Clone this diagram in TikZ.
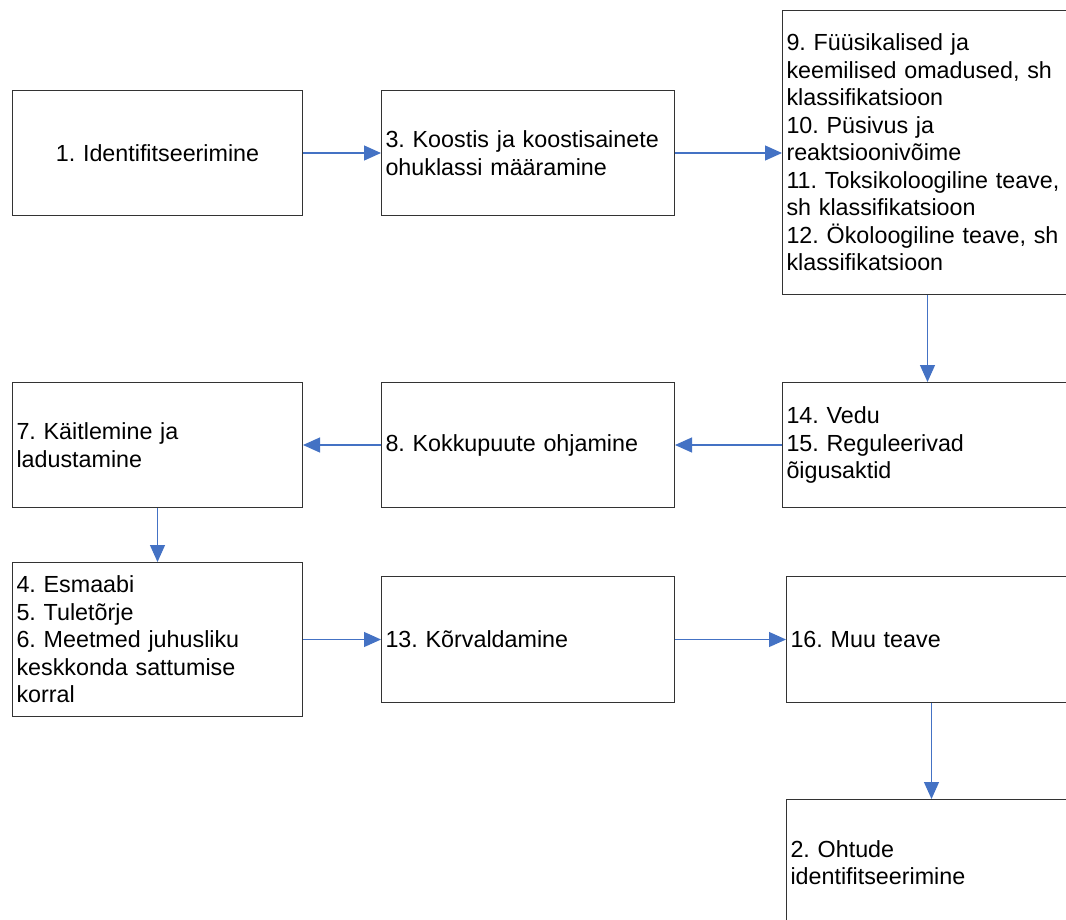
\documentclass[tikz,border=0pt]{standalone}
\usepackage{fontspec}
\setmainfont{Liberation Sans}
\usetikzlibrary{arrows.meta}
\frenchspacing
\begin{document}
\frenchspacing
\begin{tikzpicture}[x=1pt,y=-1pt,
  box/.style={draw=black!80, line width=1pt, fill=white, rectangle, anchor=north west,
    inner xsep=4pt, inner ysep=0pt, align=left,
    font=\fontsize{23.3pt}{27.5pt}\selectfont\frenchspacing},
  conn/.style={draw={rgb,255:red,68;green,114;blue,196}, line width=1.2pt,
    -{Triangle[length=17pt,width=15pt]}, color={rgb,255:red,68;green,114;blue,196}}
]
\useasboundingbox (0,0) rectangle (1066,919);
\clip (0,0) rectangle (1066,919);
\fill[white] (0,0) rectangle (1066,919);

\node[box, minimum width=290pt, minimum height=125pt, text width=282pt, align=center] (n1) at (12,90) {1. Identifitseerimine};
\node[box, minimum width=293pt, minimum height=125pt, text width=285pt] (n3) at (381,90) {3. Koostis ja koostisainete\\ohuklassi määramine};
\node[box, minimum width=290pt, minimum height=284pt, text width=282pt] (n9) at (782,10) {9. Füüsikalised ja\\keemilised omadused, sh\\klassifikatsioon\\10. Püsivus ja\\reaktsioonivõime\\11. Toksikoloogiline teave,\\sh klassifikatsioon\\12. Ökoloogiline teave, sh\\klassifikatsioon};
\node[box, minimum width=290pt, minimum height=125pt, text width=282pt] (n14) at (782,382) {14. Vedu\\15. Reguleerivad\\õigusaktid};
\node[box, minimum width=293pt, minimum height=125pt, text width=285pt] (n8) at (381,382) {8. Kokkupuute ohjamine};
\node[box, minimum width=290pt, minimum height=125pt, text width=282pt] (n7) at (12,382) {7. Käitlemine ja\\ladustamine};
\node[box, minimum width=290pt, minimum height=154pt, text width=282pt] (n4) at (12,562) {4. Esmaabi\\5. Tuletõrje\\6. Meetmed juhusliku\\keskkonda sattumise\\korral};
\node[box, minimum width=293pt, minimum height=126pt, text width=285pt] (n13) at (381,576) {13. Kõrvaldamine};
\node[box, minimum width=290pt, minimum height=126pt, text width=282pt] (n16) at (786,576) {16. Muu teave};
\node[box, minimum width=290pt, minimum height=126pt, text width=282pt] (n2) at (786,799) {2. Ohtude\\identifitseerimine};

\draw[conn] (n1.east) -- (n3.west);
\draw[conn] (n3.east) -- (n9.west |- n3.east);
\draw[conn] (n9.south) -- (n14.north);
\draw[conn] (n14.west) -- (n8.east);
\draw[conn] (n8.west) -- (n7.east);
\draw[conn] (n7.south) -- (n4.north);
\draw[conn] (n4.east) -- (n13.west);
\draw[conn] (n13.east) -- (n16.west);
\draw[conn] (n16.south) -- (n2.north);
\end{tikzpicture}
\end{document}
